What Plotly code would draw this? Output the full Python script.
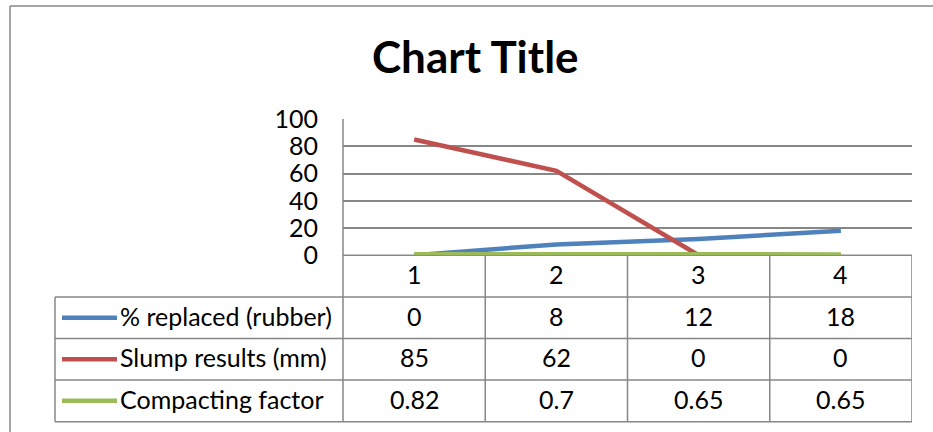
import plotly.graph_objects as go

# Data
categories = [1, 2, 3, 4]
series_names = ["% replaced (rubber)", "Slump results (mm)", "Compacting factor"]
replaced_rubber = [0, 8, 12, 18]
slump_mm = [85, 62, 0, 0]
compacting_factor = [0.82, 0.7, 0.65, 0.65]
value_labels = [
    ["0", "8", "12", "18"],
    ["85", "62", "0", "0"],
    ["0.82", "0.7", "0.65", "0.65"],
]
y_ticks = [0, 20, 40, 60, 80, 100]

W, H = 933, 432
colors = ["#4F81BD", "#C0504D", "#9BBB59"]
grid_col = "#878787"
font_family = "Lato, 'Open Sans', sans-serif"
fsize = 25


def px(x):
    return x / W


def py(y):
    return 1 - y / H


plot_left, plot_right = 343, 912
plot_top, plot_bottom = 119, 255.3
row_edges = [255.3, 297, 338.5, 380, 421.7]
legend_left = 55

fig = go.Figure()
for name, vals, col in zip(series_names, [replaced_rubber, slump_mm, compacting_factor], colors):
    fig.add_trace(go.Scatter(
        x=categories, y=vals, name=name, mode="lines",
        line=dict(color=col, width=4.5), showlegend=False,
    ))

shapes = []
line_style = dict(color=grid_col, width=1.5)

# Outer chart border (top and left edges fall inside the canvas)
shapes.append(dict(type="line", xref="paper", yref="paper",
                   x0=px(10), x1=1, y0=py(6), y1=py(6),
                   line=line_style, layer="below"))
shapes.append(dict(type="line", xref="paper", yref="paper",
                   x0=px(10), x1=px(10), y0=py(6), y1=0,
                   line=line_style, layer="below"))

# Horizontal table rules below the category row
for r in row_edges[1:]:
    shapes.append(dict(type="line", xref="paper", yref="paper",
                       x0=px(legend_left), x1=px(plot_right), y0=py(r), y1=py(r),
                       line=line_style, layer="below"))
# Category row top (axis baseline)
shapes.append(dict(type="line", xref="paper", yref="paper",
                   x0=px(plot_left), x1=px(plot_right), y0=py(row_edges[0]), y1=py(row_edges[0]),
                   line=line_style, layer="below"))
# Left edge of plot area down through the table
shapes.append(dict(type="line", xref="paper", yref="paper",
                   x0=px(plot_left), x1=px(plot_left), y0=py(plot_top), y1=py(row_edges[-1]),
                   line=line_style, layer="below"))
# Column dividers between categories
for c in categories:
    shapes.append(dict(type="line", xref="x", yref="paper",
                       x0=c + 0.5, x1=c + 0.5, y0=py(row_edges[0]), y1=py(row_edges[-1]),
                       line=line_style, layer="below"))
# Legend column left edge
shapes.append(dict(type="line", xref="paper", yref="paper",
                   x0=px(legend_left), x1=px(legend_left), y0=py(row_edges[1]), y1=py(row_edges[-1]),
                   line=line_style, layer="below"))

annotations = []
text_font = dict(family=font_family, size=fsize, color="#000000")
lift = 2  # nudge cell text so digits sit optically centred

# Category labels
cat_mid = (row_edges[0] + row_edges[1]) / 2
for c in categories:
    annotations.append(dict(x=c, y=py(cat_mid), xref="x", yref="paper", text=str(c),
                            showarrow=False, font=text_font, xanchor="center", yanchor="middle",
                            yshift=lift))

# Data table rows with legend keys
for i, (name, col, labels) in enumerate(zip(series_names, colors, value_labels)):
    mid = (row_edges[i + 1] + row_edges[i + 2]) / 2
    shapes.append(dict(type="line", xref="paper", yref="paper",
                       x0=px(62), x1=px(117), y0=py(mid), y1=py(mid),
                       line=dict(color=col, width=4.5), layer="above"))
    annotations.append(dict(x=px(118), y=py(mid), xref="paper", yref="paper", text=name,
                            showarrow=False, font=text_font, xanchor="left", yanchor="middle",
                            yshift=lift))
    for c, lab in zip(categories, labels):
        annotations.append(dict(x=c, y=py(mid), xref="x", yref="paper", text=lab,
                                showarrow=False, font=text_font, xanchor="center", yanchor="middle",
                                yshift=lift))

# Title
annotations.append(dict(x=px(475), y=py(56), xref="paper", yref="paper", text="<b>Chart Title</b>",
                        showarrow=False, font=dict(family=font_family, size=44, color="#000000"),
                        xanchor="center", yanchor="middle"))

fig.update_layout(
    template="none",
    width=W, height=H,
    margin=dict(l=0, r=0, t=0, b=0, pad=0, autoexpand=False),
    paper_bgcolor="white", plot_bgcolor="white",
    shapes=shapes, annotations=annotations,
    xaxis=dict(domain=[px(plot_left), px(plot_right)], range=[0.5, 4.5], automargin=False,
               showgrid=False, zeroline=False, showline=False, showticklabels=False, ticks=""),
    yaxis=dict(domain=[py(plot_bottom), py(plot_top)], range=[0, 100], automargin=False,
               tickvals=y_ticks, showgrid=True, gridcolor=grid_col, gridwidth=1.5,
               zeroline=False, showline=False, ticks="", ticklabelstandoff=24,
               tickfont=dict(family=font_family, size=fsize, color="#000000")),
)

fig.write_html("out.html")
